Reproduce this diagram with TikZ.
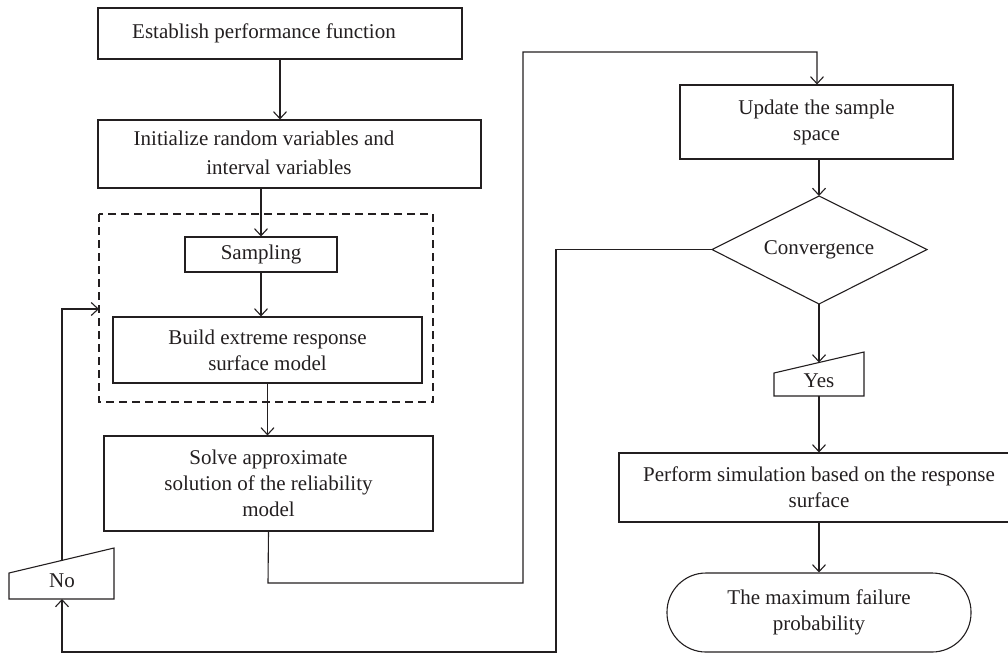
\documentclass[tikz,border=0pt]{standalone}
\usepackage{fontspec}
\setmainfont{Liberation Serif}
\usetikzlibrary{arrows.meta}
\definecolor{ink}{RGB}{35,31,32}
\begin{document}
\begin{tikzpicture}[x=1pt,y=-1pt,
  every node/.style={font=\fontsize{21}{26}\selectfont, text=ink, align=center, inner sep=0pt},
  box/.style={draw=ink, line width=1.1pt, rectangle},
  conn/.style={draw=ink, line width=1.1pt},
  arr/.style={conn, -{Straight Barb[length=7pt,width=13pt,line width=1.1pt]}},
  shp/.style={draw=ink, line width=1.1pt, line join=miter}
]
\useasboundingbox (0,0) rectangle (1008,654);

% left column
\node[box, minimum width=364pt, minimum height=51pt] (b1) at (280,33.5) {};
\node (b1t) at (264,33.5) {Establish performance function};
\node[box, minimum width=383pt, minimum height=68pt] (b2) at (289.5,154) {};
\node[anchor=base] (b2t1) at (264,145) {Initialize random variables and};
\node[anchor=base] (b2t2) at (279,174) {interval variables};
\coordinate (dTL) at (99,214);
\coordinate (dBR) at (433,402);
\draw[conn, dash pattern=on 8pt off 5pt] (dTL) rectangle (dBR);
\node[box, minimum width=152pt, minimum height=35pt] (samp) at (261,254.5) {Sampling};
\node[box, minimum width=309pt, minimum height=66pt] (build) at (267.5,350) {Build extreme response\\surface model};
\node[box, minimum width=329pt, minimum height=95pt] (solve) at (268.5,483.5) {Solve approximate\\solution of the reliability\\model};

% No manual input
\coordinate (noA) at (9,573);
\coordinate (noB) at (114,548);
\coordinate (noC) at (114,599);
\coordinate (noD) at (9,599);
\draw[shp] (noA) -- (noB) -- (noC) -- (noD) -- cycle;
\node (no) at (62,581) {No};
\coordinate (noTop) at (62,561);
\coordinate (noBot) at (62,599);

% right column
\node[box, minimum width=273pt, minimum height=74pt] (upd) at (816.5,122) {Update the sample\\space};
\coordinate (dT) at (819,196);
\coordinate (dL) at (712,249.5);
\coordinate (dR) at (927,249.5);
\coordinate (dB) at (819,304);
\draw[shp] (dT) -- (dR) -- (dB) -- (dL) -- cycle;
\node (conv) at (819,250) {Convergence};

\coordinate (yA) at (774,373);
\coordinate (yB) at (864,352);
\coordinate (yC) at (864,396);
\coordinate (yD) at (774,396);
\draw[shp] (yA) -- (yB) -- (yC) -- (yD) -- cycle;
\node (yes) at (819,381) {Yes};
\coordinate (yTop) at (819,362.5);
\coordinate (yBot) at (819,396);

\node[box, minimum width=400pt, minimum height=69pt] (perf) at (819,487.5) {Perform simulation based on the response\\surface};
\node[box, rounded corners=39pt, minimum width=304pt, minimum height=79pt] (term) at (819,612.5) {The maximum failure\\probability};

% connectors
\draw[arr] (b1.south -| 280,0) -- (b2.north -| 280,0);
\draw[arr] (b2.south -| samp.north) -- (samp.north);
\draw[arr] (samp.south) -- (samp.south |- build.north);
\draw[arr] (build.south) -- (build.south |- solve.north);
\draw[arr] (solve.south) -- (268,583) -- (523,583) -- (523,52) -- (817,52) -- (upd.north -| 817,0);
\draw[arr] (upd.south -| dT) -- (dT);
\draw[arr] (dB) -- (yTop);
\draw[arr] (yBot) -- (perf.north);
\draw[arr] (perf.south) -- (term.north);
\draw[arr] (dL) -- (556,249.5) -- (556,652) -- (62,652) -- (noBot);
\draw[arr] (noTop) -- (62,309) -- (dTL |- 0,309);
\end{tikzpicture}
\end{document}
